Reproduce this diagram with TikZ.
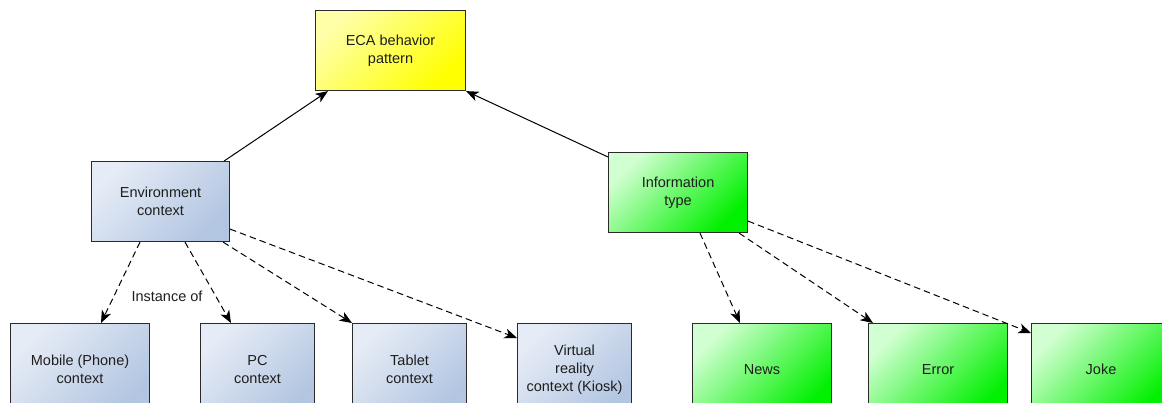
\documentclass[tikz,border=0pt]{standalone}
\usepackage{fontspec}
\setmainfont{Liberation Sans}
\usetikzlibrary{arrows.meta,positioning}

\definecolor{bluelight}{HTML}{E6ECF6}
\definecolor{bluedark}{HTML}{B2C5E1}
\definecolor{yellowlight}{HTML}{FFFFA8}
\definecolor{yellowdark}{HTML}{FFFF00}
\definecolor{greenlight}{HTML}{D2FFD2}
\definecolor{greendark}{HTML}{00F000}
\definecolor{edgegray}{HTML}{2A2A2A}
\definecolor{textgray}{HTML}{1E1E1E}

\tikzset{
  box/.style={draw=edgegray, line width=1.1pt, inner sep=0pt, anchor=north west,
    align=center, text=textgray, font=\fontsize{14.5}{18}\selectfont},
  bluebox/.style={box, top color=bluelight, bottom color=bluedark, shading angle=45},
  yellowbox/.style={box, top color=yellowlight, bottom color=yellowdark, shading angle=45},
  greenbox/.style={box, top color=greenlight, bottom color=greendark, shading angle=45},
  tip/.style={-{Stealth[length=12.5pt,width=10pt,inset=3.5pt]}},
  solidlink/.style={tip, line width=1pt, black},
  dashlink/.style={tip, line width=1pt, black, dash pattern=on 6.5pt off 4pt},
  caption/.style={font=\fontsize{14.5}{18}\selectfont, text=textgray, inner sep=0pt}
}

\begin{document}
\begin{tikzpicture}[x=1pt, y=-1pt]
  \useasboundingbox (0,0) rectangle (1162,403);
  \clip (0,0) rectangle (1162,403);

  % top level
  \node[yellowbox, minimum width=150pt, minimum height=80pt] (eca) at (315,10) {ECA behavior\\pattern};

  % categories
  \node[bluebox, minimum width=138pt, minimum height=80pt] (env) at (91,161) {Environment\\context};
  \node[greenbox, minimum width=139pt, minimum height=80pt] (info) at (608,152) {Information\\type};

  % environment instances
  \node[bluebox, minimum width=139pt, minimum height=92pt] (mobile) at (10,323) {Mobile (Phone)\\context};
  \node[bluebox, minimum width=114pt, minimum height=92pt] (pc) at (200,323) {PC\\context};
  \node[bluebox, minimum width=114pt, minimum height=92pt] (tablet) at (352,323) {Tablet\\context};
  \node[bluebox, minimum width=114pt, minimum height=92pt] (virtual) at (517,323) {Virtual\\reality\\context (Kiosk)};

  % information instances
  \node[greenbox, minimum width=139pt, minimum height=92pt] (news) at (692,323) {News};
  \node[greenbox, minimum width=139pt, minimum height=92pt] (error) at (868,323) {Error};
  \node[greenbox, minimum width=139pt, minimum height=92pt] (joke) at (1031,323) {Joke};

  \node[caption] (inst) at (167,296) {Instance of};

  % generalisation links
  \draw[solidlink] ([xshift=-6pt]env.north east) -- ([xshift=13pt]eca.south west);
  \draw[solidlink] ([yshift=-5pt]info.north west) -- (eca.south east);

  % instance links
  \draw[dashlink] ([xshift=49pt]env.south west) -- ([xshift=91pt]mobile.north west);
  \draw[dashlink] ([xshift=94pt]env.south west) -- ([xshift=31pt]pc.north west);
  \draw[dashlink] ([xshift=-7pt]env.south east) -- (tablet.north west);
  \draw[dashlink] ([yshift=13pt]env.south east) -- ([yshift=-15pt]virtual.north west);

  \draw[dashlink] ([xshift=92pt]info.south west) -- ([xshift=48pt]news.north west);
  \draw[dashlink] ([xshift=-9pt]info.south east) -- ([xshift=5pt]error.north west);
  \draw[dashlink] ([yshift=12pt]info.south east) -- ([yshift=-10pt]joke.north west);
\end{tikzpicture}
\end{document}
